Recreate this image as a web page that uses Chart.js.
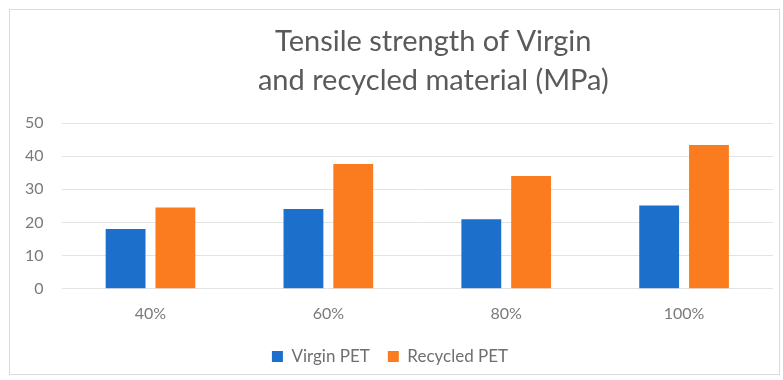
<!DOCTYPE html>
<html>
<head>
<meta charset="utf-8">
<script src="https://cdn.jsdelivr.net/npm/chart.js@4/dist/chart.umd.min.js"></script>
<style>
  html, body { margin: 0; padding: 0; background: #ffffff; }
  #wrap { position: relative; width: 783px; height: 380px; }
  #frame { position: absolute; left: 9px; top: 9px; width: 769px; height: 364px;
           border: 1px solid #dcdcdc; pointer-events: none; }
  canvas { position: absolute; left: 0; top: 0; }
</style>
</head>
<body>
<div id="wrap">
  <canvas id="c" width="783" height="380"></canvas>
  <div id="frame"></div>
</div>
<script>
const categories = ['40%', '60%', '80%', '100%'];
const virginPET = [18, 24.1, 21, 25.1];
const recycledPET = [24.5, 37.6, 34, 43.4];
const titleLines = ['Tensile strength of Virgin', 'and recycled material (MPa)'];

const FONT = "Lato, 'Open Sans', sans-serif";

// Two-line heading, centred a little right of the plot's middle
const headingPlugin = {
  id: 'heading',
  afterDraw(chart) {
    const ctx = chart.ctx;
    const area = chart.chartArea;
    const cx = (area.left + area.right) / 2 + 16;
    ctx.save();
    ctx.fillStyle = '#5a5a5a';
    ctx.font = '29px ' + FONT;
    ctx.textAlign = 'center';
    ctx.textBaseline = 'middle';
    titleLines.forEach((line, i) => ctx.fillText(line, cx, 42 + i * 39));
    ctx.restore();
  }
};

new Chart(document.getElementById('c'), {
  type: 'bar',
  data: {
    labels: categories,
    datasets: [
      { label: 'Virgin PET', data: virginPET, backgroundColor: '#1c6fcb',
        categoryPercentage: 0.56, barPercentage: 0.8 },
      { label: 'Recycled PET', data: recycledPET, backgroundColor: '#fb7c1f',
        categoryPercentage: 0.56, barPercentage: 0.8 }
    ]
  },
  plugins: [headingPlugin],
  options: {
    responsive: false,
    animation: false,
    layout: { padding: { left: 7, right: 10, top: 123, bottom: 5 } },
    plugins: {
      title: { display: false },
      legend: {
        position: 'bottom',
        labels: {
          color: '#6f6f6f',
          font: { family: FONT, size: 17 },
          boxWidth: 11, boxHeight: 11,
          padding: 18
        }
      },
      tooltip: { enabled: false }
    },
    scales: {
      x: {
        grid: { display: false },
        border: { display: false },
        ticks: { color: '#7a7a7a', font: { family: FONT, size: 16 }, padding: 7 }
      },
      y: {
        min: 0, max: 50,
        ticks: { stepSize: 10, color: '#7a7a7a', font: { family: FONT, size: 16 }, padding: 18 },
        grid: { color: '#e3e3e3', drawTicks: false },
        border: { display: false }
      }
    }
  }
});
</script>
</body>
</html>
